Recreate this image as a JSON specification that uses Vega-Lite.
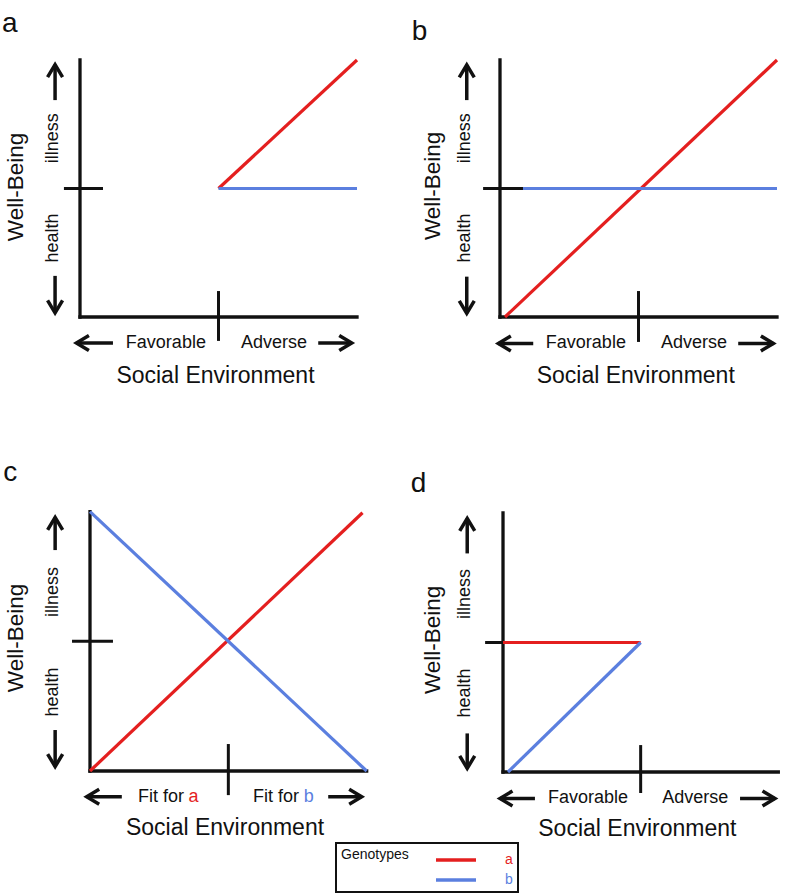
{
  "$schema": "https://vega.github.io/schema/vega-lite/v6.json",
  "padding": 0,
  "background": "white",
  "spacing": 0,
  "config": {
    "view": {"stroke": null},
    "font": "Liberation Sans",
    "concat": {"spacing": 0},
    "legend": {
      "titleOrient": "left",
      "titleAnchor": "start",
      "titleBaseline": "top",
      "titleAngle": 0,
      "titleFontSize": 14,
      "titleFontWeight": "normal",
      "titleColor": "#111111",
      "titlePadding": 27,
      "labelFontSize": 14,
      "labelOffset": 37,
      "symbolType": "M-2,0H2",
      "symbolSize": 400,
      "symbolStrokeWidth": 3.5,
      "symbolOffset": 8,
      "padding": 5,
      "rowPadding": 1,
      "strokeColor": "#111111",
      "fillColor": "white"
    }
  },
  "datasets": {
    "diagram": [
      {"panel": "a", "kind": "axis", "x": 0, "y": 0, "x2": 0, "y2": 10},
      {"panel": "a", "kind": "axis", "x": 0, "y": 0, "x2": 10, "y2": 0},
      {"panel": "a", "kind": "tick", "x": -0.58, "y": 5, "x2": 0.83, "y2": 5},
      {"panel": "a", "kind": "tick", "x": 5, "y": -0.93, "x2": 5, "y2": 1.01},
      {"panel": "a", "kind": "curve", "genotype": "a", "x": 5, "y": 5},
      {"panel": "a", "kind": "curve", "genotype": "a", "x": 10, "y": 10},
      {"panel": "a", "kind": "curve", "genotype": "b", "x": 5, "y": 5},
      {"panel": "a", "kind": "curve", "genotype": "b", "x": 10, "y": 5},
      {"panel": "a", "kind": "arrow", "dir": "up", "x": -0.9, "y": 9.82, "x2": -0.9, "y2": 8.44},
      {"panel": "a", "kind": "arrow", "dir": "down", "x": -0.9, "y": 0.16, "x2": -0.9, "y2": 1.6},
      {"panel": "a", "kind": "arrow", "dir": "left", "x": -0.13, "y": -1.01, "x2": 1.19, "y2": -1.01},
      {"panel": "a", "kind": "arrow", "dir": "right", "x": 9.81, "y": -1.01, "x2": 8.6, "y2": -1.01},
      {"panel": "a", "kind": "tag", "text": "a", "x": -2.82, "y": 11.09},
      {"panel": "a", "kind": "ytitle", "text": "Well-Being", "x": -2.31, "y": 5.06},
      {"panel": "a", "kind": "ypole", "text": "illness", "x": -0.97, "y": 6.96},
      {"panel": "a", "kind": "ypole", "text": "health", "x": -0.97, "y": 3.07},
      {"panel": "a", "kind": "xpole", "text": "Favorable", "x": 3.1, "y": -1.01},
      {"panel": "a", "kind": "xpole", "text": "Adverse", "x": 7.0, "y": -1.01},
      {"panel": "a", "kind": "xtitle", "text": "Social Environment", "x": 4.89, "y": -2.3},

      {"panel": "b", "kind": "axis", "x": 0, "y": 0, "x2": 0, "y2": 10},
      {"panel": "b", "kind": "axis", "x": 0, "y": 0, "x2": 10, "y2": 0},
      {"panel": "b", "kind": "tick", "x": -0.61, "y": 5, "x2": 0.83, "y2": 5},
      {"panel": "b", "kind": "tick", "x": 5, "y": -0.97, "x2": 5, "y2": 1.01},
      {"panel": "b", "kind": "curve", "genotype": "a", "x": 0.18, "y": 0},
      {"panel": "b", "kind": "curve", "genotype": "a", "x": 10, "y": 10},
      {"panel": "b", "kind": "curve", "genotype": "b", "x": 0.83, "y": 5},
      {"panel": "b", "kind": "curve", "genotype": "b", "x": 10, "y": 5},
      {"panel": "b", "kind": "arrow", "dir": "up", "x": -1.2, "y": 9.81, "x2": -1.2, "y2": 8.44},
      {"panel": "b", "kind": "arrow", "dir": "down", "x": -1.2, "y": 0.14, "x2": -1.2, "y2": 1.57},
      {"panel": "b", "kind": "arrow", "dir": "left", "x": -0.06, "y": -1.03, "x2": 1.2, "y2": -1.03},
      {"panel": "b", "kind": "arrow", "dir": "right", "x": 9.87, "y": -1.03, "x2": 8.6, "y2": -1.03},
      {"panel": "b", "kind": "tag", "text": "b", "x": -3.19, "y": 10.78},
      {"panel": "b", "kind": "ytitle", "text": "Well-Being", "x": -2.42, "y": 5.1},
      {"panel": "b", "kind": "ypole", "text": "illness", "x": -1.26, "y": 6.96},
      {"panel": "b", "kind": "ypole", "text": "health", "x": -1.26, "y": 3.07},
      {"panel": "b", "kind": "xpole", "text": "Favorable", "x": 3.1, "y": -1.01},
      {"panel": "b", "kind": "xpole", "text": "Adverse", "x": 7.0, "y": -1.01},
      {"panel": "b", "kind": "xtitle", "text": "Social Environment", "x": 4.9, "y": -2.3},

      {"panel": "c", "kind": "axis", "x": 0, "y": 0, "x2": 0, "y2": 10},
      {"panel": "c", "kind": "axis", "x": 0, "y": 0, "x2": 10, "y2": 0},
      {"panel": "c", "kind": "tick", "x": -0.65, "y": 5, "x2": 0.83, "y2": 5},
      {"panel": "c", "kind": "tick", "x": 5, "y": -0.93, "x2": 5, "y2": 1.04},
      {"panel": "c", "kind": "curve", "genotype": "a", "x": 0, "y": 0},
      {"panel": "c", "kind": "curve", "genotype": "a", "x": 9.85, "y": 9.96},
      {"panel": "c", "kind": "curve", "genotype": "b", "x": 0, "y": 10},
      {"panel": "c", "kind": "curve", "genotype": "b", "x": 10, "y": 0},
      {"panel": "c", "kind": "arrow", "dir": "up", "x": -1.26, "y": 9.78, "x2": -1.26, "y2": 8.52},
      {"panel": "c", "kind": "arrow", "dir": "down", "x": -1.26, "y": 0.17, "x2": -1.26, "y2": 1.58},
      {"panel": "c", "kind": "arrow", "dir": "left", "x": -0.12, "y": -0.99, "x2": 1.15, "y2": -0.99},
      {"panel": "c", "kind": "arrow", "dir": "right", "x": 9.82, "y": -0.99, "x2": 8.61, "y2": -0.99},
      {"panel": "c", "kind": "tag", "text": "c", "x": -3.14, "y": 11.2},
      {"panel": "c", "kind": "ytitle", "text": "Well-Being", "x": -2.67, "y": 5.13},
      {"panel": "c", "kind": "ypole", "text": "illness", "x": -1.32, "y": 6.9},
      {"panel": "c", "kind": "ypole", "text": "health", "x": -1.32, "y": 3.05},
      {"panel": "c", "kind": "xpole", "text": "Fit for", "x": 2.57, "y": -0.99},
      {"panel": "c", "kind": "xpole", "text": "Fit for", "x": 6.72, "y": -0.99},
      {"panel": "c", "kind": "key", "text": "a", "genotype": "a", "x": 3.74, "y": -0.99},
      {"panel": "c", "kind": "key", "text": "b", "genotype": "b", "x": 7.91, "y": -0.99},
      {"panel": "c", "kind": "xtitle", "text": "Social Environment", "x": 4.88, "y": -2.2},

      {"panel": "d", "kind": "axis", "x": 0, "y": 0, "x2": 0, "y2": 10},
      {"panel": "d", "kind": "axis", "x": 0, "y": 0, "x2": 10, "y2": 0},
      {"panel": "d", "kind": "tick", "x": -0.65, "y": 5, "x2": 0.8, "y2": 5},
      {"panel": "d", "kind": "tick", "x": 5, "y": -0.81, "x2": 5, "y2": 1.04},
      {"panel": "d", "kind": "curve", "genotype": "a", "x": 0, "y": 5},
      {"panel": "d", "kind": "curve", "genotype": "a", "x": 5, "y": 5},
      {"panel": "d", "kind": "curve", "genotype": "b", "x": 0.18, "y": 0},
      {"panel": "d", "kind": "curve", "genotype": "b", "x": 5, "y": 5},
      {"panel": "d", "kind": "arrow", "dir": "up", "x": -1.3, "y": 9.79, "x2": -1.3, "y2": 8.44},
      {"panel": "d", "kind": "arrow", "dir": "down", "x": -1.3, "y": 0.14, "x2": -1.3, "y2": 1.49},
      {"panel": "d", "kind": "arrow", "dir": "left", "x": -0.11, "y": -1.02, "x2": 1.16, "y2": -1.02},
      {"panel": "d", "kind": "arrow", "dir": "right", "x": 9.88, "y": -1.02, "x2": 8.61, "y2": -1.02},
      {"panel": "d", "kind": "tag", "text": "d", "x": -3.35, "y": 10.82},
      {"panel": "d", "kind": "ytitle", "text": "Well-Being", "x": -2.56, "y": 5.1},
      {"panel": "d", "kind": "ypole", "text": "illness", "x": -1.38, "y": 6.87},
      {"panel": "d", "kind": "ypole", "text": "health", "x": -1.38, "y": 3.05},
      {"panel": "d", "kind": "xpole", "text": "Favorable", "x": 3.09, "y": -1.0},
      {"panel": "d", "kind": "xpole", "text": "Adverse", "x": 6.98, "y": -1.0},
      {"panel": "d", "kind": "xtitle", "text": "Social Environment", "x": 4.88, "y": -2.2}
    ]
  },
  "resolve": {"scale": {"x": "independent", "y": "independent", "color": "shared", "shape": "shared"}, "legend": {"color": "shared"}},
  "vconcat": [
    {
      "spacing": 0,
      "bounds": "flush",
      "resolve": {"scale": {"x": "independent", "y": "independent", "color": "shared", "shape": "shared"}},
      "hconcat": [
        {
          "width": 390, "height": 440,
          "data": {"name": "diagram"},
          "transform": [{"filter": "datum.panel === 'a'"}],
          "encoding": {
            "x": {"field": "x", "type": "quantitative", "scale": {"domain": [-2.888, 11.191], "nice": false, "zero": false}, "axis": null},
            "y": {"field": "y", "type": "quantitative", "scale": {"domain": [-4.786, 12.335], "nice": false, "zero": false}, "axis": null}
          },
          "layer": [
            {"transform": [{"filter": "datum.kind === 'axis'"}], "mark": {"type": "rule", "color": "#111111", "strokeWidth": 3.3, "strokeCap": "square"}, "encoding": {"x2": {"field": "x2"}, "y2": {"field": "y2"}}},
            {"transform": [{"filter": "datum.kind === 'tick'"}], "mark": {"type": "rule", "color": "#111111", "strokeWidth": 3}, "encoding": {"x2": {"field": "x2"}, "y2": {"field": "y2"}}},
            {"transform": [{"filter": "datum.kind === 'curve'"}], "mark": {"type": "line", "strokeWidth": 3.2}, "encoding": {"color": {"field": "genotype", "type": "nominal", "title": "Genotypes", "scale": {"domain": ["a", "b"], "range": ["#e41f1f", "#5b7fdf"]}, "legend": {"orient": "none", "legendX": 336, "legendY": 843, "encode": {"labels": {"update": {"fill": {"signal": "datum.value === 'a' ? '#e41f1f' : '#5b7fdf'"}}}, "legend": {"update": {"strokeWidth": {"value": 2}}}}}}}},
            {"transform": [{"filter": "datum.kind === 'arrow'"}], "mark": {"type": "rule", "color": "#111111", "strokeWidth": 3.5}, "encoding": {"x2": {"field": "x2"}, "y2": {"field": "y2"}}},
            {"transform": [{"filter": "datum.kind === 'arrow'"}], "mark": {"type": "point", "filled": false, "color": "#111111", "opacity": 1, "strokeWidth": 3.5, "strokeJoin": "miter", "size": 625}, "encoding": {"shape": {"field": "dir", "type": "nominal", "scale": {"domain": ["up", "down", "left", "right"], "range": ["M-0.6,1L0,0L0.6,1", "M-0.6,-1L0,0L0.6,-1", "M1,-0.6L0,0L1,0.6", "M-1,-0.6L0,0L-1,0.6"]}, "legend": null}}},
            {"transform": [{"filter": "datum.kind === 'tag'"}], "mark": {"type": "text", "fontSize": 28, "align": "left", "baseline": "alphabetic", "color": "#111111"}, "encoding": {"text": {"field": "text"}}},
            {"transform": [{"filter": "datum.kind === 'ytitle'"}], "mark": {"type": "text", "fontSize": 22.5, "angle": 270, "align": "center", "baseline": "middle", "color": "#111111"}, "encoding": {"text": {"field": "text"}}},
            {"transform": [{"filter": "datum.kind === 'ypole'"}], "mark": {"type": "text", "fontSize": 18, "angle": 270, "align": "center", "baseline": "middle", "color": "#111111"}, "encoding": {"text": {"field": "text"}}},
            {"transform": [{"filter": "datum.kind === 'xpole'"}], "mark": {"type": "text", "fontSize": 18, "align": "center", "baseline": "middle", "color": "#111111"}, "encoding": {"text": {"field": "text"}}},
            {"transform": [{"filter": "datum.kind === 'xtitle'"}], "mark": {"type": "text", "fontSize": 23, "align": "center", "baseline": "middle", "color": "#111111"}, "encoding": {"text": {"field": "text"}}}
          ]
        },
        {
          "width": 395, "height": 440,
          "data": {"name": "diagram"},
          "transform": [{"filter": "datum.panel === 'b'"}],
          "encoding": {
            "x": {"field": "x", "type": "quantitative", "scale": {"domain": [-3.971, 10.289], "nice": false, "zero": false}, "axis": null},
            "y": {"field": "y", "type": "quantitative", "scale": {"domain": [-4.786, 12.335], "nice": false, "zero": false}, "axis": null}
          },
          "layer": [
            {"transform": [{"filter": "datum.kind === 'axis'"}], "mark": {"type": "rule", "color": "#111111", "strokeWidth": 3.3, "strokeCap": "square"}, "encoding": {"x2": {"field": "x2"}, "y2": {"field": "y2"}}},
            {"transform": [{"filter": "datum.kind === 'tick'"}], "mark": {"type": "rule", "color": "#111111", "strokeWidth": 3}, "encoding": {"x2": {"field": "x2"}, "y2": {"field": "y2"}}},
            {"transform": [{"filter": "datum.kind === 'curve'"}], "mark": {"type": "line", "strokeWidth": 3.2}, "encoding": {"color": {"field": "genotype", "type": "nominal", "title": "Genotypes", "scale": {"domain": ["a", "b"], "range": ["#e41f1f", "#5b7fdf"]}, "legend": {"orient": "none", "legendX": 336, "legendY": 843, "encode": {"labels": {"update": {"fill": {"signal": "datum.value === 'a' ? '#e41f1f' : '#5b7fdf'"}}}, "legend": {"update": {"strokeWidth": {"value": 2}}}}}}}},
            {"transform": [{"filter": "datum.kind === 'arrow'"}], "mark": {"type": "rule", "color": "#111111", "strokeWidth": 3.5}, "encoding": {"x2": {"field": "x2"}, "y2": {"field": "y2"}}},
            {"transform": [{"filter": "datum.kind === 'arrow'"}], "mark": {"type": "point", "filled": false, "color": "#111111", "opacity": 1, "strokeWidth": 3.5, "strokeJoin": "miter", "size": 625}, "encoding": {"shape": {"field": "dir", "type": "nominal", "scale": {"domain": ["up", "down", "left", "right"], "range": ["M-0.6,1L0,0L0.6,1", "M-0.6,-1L0,0L0.6,-1", "M1,-0.6L0,0L1,0.6", "M-1,-0.6L0,0L-1,0.6"]}, "legend": null}}},
            {"transform": [{"filter": "datum.kind === 'tag'"}], "mark": {"type": "text", "fontSize": 28, "align": "left", "baseline": "alphabetic", "color": "#111111"}, "encoding": {"text": {"field": "text"}}},
            {"transform": [{"filter": "datum.kind === 'ytitle'"}], "mark": {"type": "text", "fontSize": 22.5, "angle": 270, "align": "center", "baseline": "middle", "color": "#111111"}, "encoding": {"text": {"field": "text"}}},
            {"transform": [{"filter": "datum.kind === 'ypole'"}], "mark": {"type": "text", "fontSize": 18, "angle": 270, "align": "center", "baseline": "middle", "color": "#111111"}, "encoding": {"text": {"field": "text"}}},
            {"transform": [{"filter": "datum.kind === 'xpole'"}], "mark": {"type": "text", "fontSize": 18, "align": "center", "baseline": "middle", "color": "#111111"}, "encoding": {"text": {"field": "text"}}},
            {"transform": [{"filter": "datum.kind === 'xtitle'"}], "mark": {"type": "text", "fontSize": 23, "align": "center", "baseline": "middle", "color": "#111111"}, "encoding": {"text": {"field": "text"}}}
          ]
        }
      ]
    },
    {
      "spacing": 0,
      "bounds": "flush",
      "resolve": {"scale": {"x": "independent", "y": "independent", "color": "shared", "shape": "shared"}},
      "hconcat": [
        {
          "width": 390, "height": 400,
          "data": {"name": "diagram"},
          "transform": [{"filter": "datum.panel === 'c'"}],
          "encoding": {
            "x": {"field": "x", "type": "quantitative", "scale": {"domain": [-3.253, 10.843], "nice": false, "zero": false}, "axis": null},
            "y": {"field": "y", "type": "quantitative", "scale": {"domain": [-2.661, 12.765], "nice": false, "zero": false}, "axis": null}
          },
          "layer": [
            {"transform": [{"filter": "datum.kind === 'axis'"}], "mark": {"type": "rule", "color": "#111111", "strokeWidth": 3.3, "strokeCap": "square"}, "encoding": {"x2": {"field": "x2"}, "y2": {"field": "y2"}}},
            {"transform": [{"filter": "datum.kind === 'tick'"}], "mark": {"type": "rule", "color": "#111111", "strokeWidth": 3}, "encoding": {"x2": {"field": "x2"}, "y2": {"field": "y2"}}},
            {"transform": [{"filter": "datum.kind === 'curve'"}], "mark": {"type": "line", "strokeWidth": 3.2}, "encoding": {"color": {"field": "genotype", "type": "nominal", "title": "Genotypes", "scale": {"domain": ["a", "b"], "range": ["#e41f1f", "#5b7fdf"]}, "legend": {"orient": "none", "legendX": 336, "legendY": 843, "encode": {"labels": {"update": {"fill": {"signal": "datum.value === 'a' ? '#e41f1f' : '#5b7fdf'"}}}, "legend": {"update": {"strokeWidth": {"value": 2}}}}}}}},
            {"transform": [{"filter": "datum.kind === 'arrow'"}], "mark": {"type": "rule", "color": "#111111", "strokeWidth": 3.5}, "encoding": {"x2": {"field": "x2"}, "y2": {"field": "y2"}}},
            {"transform": [{"filter": "datum.kind === 'arrow'"}], "mark": {"type": "point", "filled": false, "color": "#111111", "opacity": 1, "strokeWidth": 3.5, "strokeJoin": "miter", "size": 625}, "encoding": {"shape": {"field": "dir", "type": "nominal", "scale": {"domain": ["up", "down", "left", "right"], "range": ["M-0.6,1L0,0L0.6,1", "M-0.6,-1L0,0L0.6,-1", "M1,-0.6L0,0L1,0.6", "M-1,-0.6L0,0L-1,0.6"]}, "legend": null}}},
            {"transform": [{"filter": "datum.kind === 'tag'"}], "mark": {"type": "text", "fontSize": 28, "align": "left", "baseline": "alphabetic", "color": "#111111"}, "encoding": {"text": {"field": "text"}}},
            {"transform": [{"filter": "datum.kind === 'ytitle'"}], "mark": {"type": "text", "fontSize": 22.5, "angle": 270, "align": "center", "baseline": "middle", "color": "#111111"}, "encoding": {"text": {"field": "text"}}},
            {"transform": [{"filter": "datum.kind === 'ypole'"}], "mark": {"type": "text", "fontSize": 18, "angle": 270, "align": "center", "baseline": "middle", "color": "#111111"}, "encoding": {"text": {"field": "text"}}},
            {"transform": [{"filter": "datum.kind === 'xpole'"}], "mark": {"type": "text", "fontSize": 18, "align": "center", "baseline": "middle", "color": "#111111"}, "encoding": {"text": {"field": "text"}}},
            {"transform": [{"filter": "datum.kind === 'key'"}], "mark": {"type": "text", "fontSize": 18, "align": "center", "baseline": "middle"}, "encoding": {"text": {"field": "text"}, "color": {"condition": {"test": "datum.genotype === 'a'", "value": "#e41f1f"}, "value": "#5b7fdf"}}},
            {"transform": [{"filter": "datum.kind === 'xtitle'"}], "mark": {"type": "text", "fontSize": 23, "align": "center", "baseline": "middle", "color": "#111111"}, "encoding": {"text": {"field": "text"}}}
          ]
        },
        {
          "width": 395, "height": 400,
          "data": {"name": "diagram"},
          "transform": [{"filter": "datum.panel === 'd'"}],
          "encoding": {
            "x": {"field": "x", "type": "quantitative", "scale": {"domain": [-4.105, 10.243], "nice": false, "zero": false}, "axis": null},
            "y": {"field": "y", "type": "quantitative", "scale": {"domain": [-2.625, 12.819], "nice": false, "zero": false}, "axis": null}
          },
          "layer": [
            {"transform": [{"filter": "datum.kind === 'axis'"}], "mark": {"type": "rule", "color": "#111111", "strokeWidth": 3.3, "strokeCap": "square"}, "encoding": {"x2": {"field": "x2"}, "y2": {"field": "y2"}}},
            {"transform": [{"filter": "datum.kind === 'tick'"}], "mark": {"type": "rule", "color": "#111111", "strokeWidth": 3}, "encoding": {"x2": {"field": "x2"}, "y2": {"field": "y2"}}},
            {"transform": [{"filter": "datum.kind === 'curve'"}], "mark": {"type": "line", "strokeWidth": 3.2}, "encoding": {"color": {"field": "genotype", "type": "nominal", "title": "Genotypes", "scale": {"domain": ["a", "b"], "range": ["#e41f1f", "#5b7fdf"]}, "legend": {"orient": "none", "legendX": 336, "legendY": 843, "encode": {"labels": {"update": {"fill": {"signal": "datum.value === 'a' ? '#e41f1f' : '#5b7fdf'"}}}, "legend": {"update": {"strokeWidth": {"value": 2}}}}}}}},
            {"transform": [{"filter": "datum.kind === 'arrow'"}], "mark": {"type": "rule", "color": "#111111", "strokeWidth": 3.5}, "encoding": {"x2": {"field": "x2"}, "y2": {"field": "y2"}}},
            {"transform": [{"filter": "datum.kind === 'arrow'"}], "mark": {"type": "point", "filled": false, "color": "#111111", "opacity": 1, "strokeWidth": 3.5, "strokeJoin": "miter", "size": 625}, "encoding": {"shape": {"field": "dir", "type": "nominal", "scale": {"domain": ["up", "down", "left", "right"], "range": ["M-0.6,1L0,0L0.6,1", "M-0.6,-1L0,0L0.6,-1", "M1,-0.6L0,0L1,0.6", "M-1,-0.6L0,0L-1,0.6"]}, "legend": null}}},
            {"transform": [{"filter": "datum.kind === 'tag'"}], "mark": {"type": "text", "fontSize": 28, "align": "left", "baseline": "alphabetic", "color": "#111111"}, "encoding": {"text": {"field": "text"}}},
            {"transform": [{"filter": "datum.kind === 'ytitle'"}], "mark": {"type": "text", "fontSize": 22.5, "angle": 270, "align": "center", "baseline": "middle", "color": "#111111"}, "encoding": {"text": {"field": "text"}}},
            {"transform": [{"filter": "datum.kind === 'ypole'"}], "mark": {"type": "text", "fontSize": 18, "angle": 270, "align": "center", "baseline": "middle", "color": "#111111"}, "encoding": {"text": {"field": "text"}}},
            {"transform": [{"filter": "datum.kind === 'xpole'"}], "mark": {"type": "text", "fontSize": 18, "align": "center", "baseline": "middle", "color": "#111111"}, "encoding": {"text": {"field": "text"}}},
            {"transform": [{"filter": "datum.kind === 'xtitle'"}], "mark": {"type": "text", "fontSize": 23, "align": "center", "baseline": "middle", "color": "#111111"}, "encoding": {"text": {"field": "text"}}}
          ]
        }
      ]
    }
  ]
}
